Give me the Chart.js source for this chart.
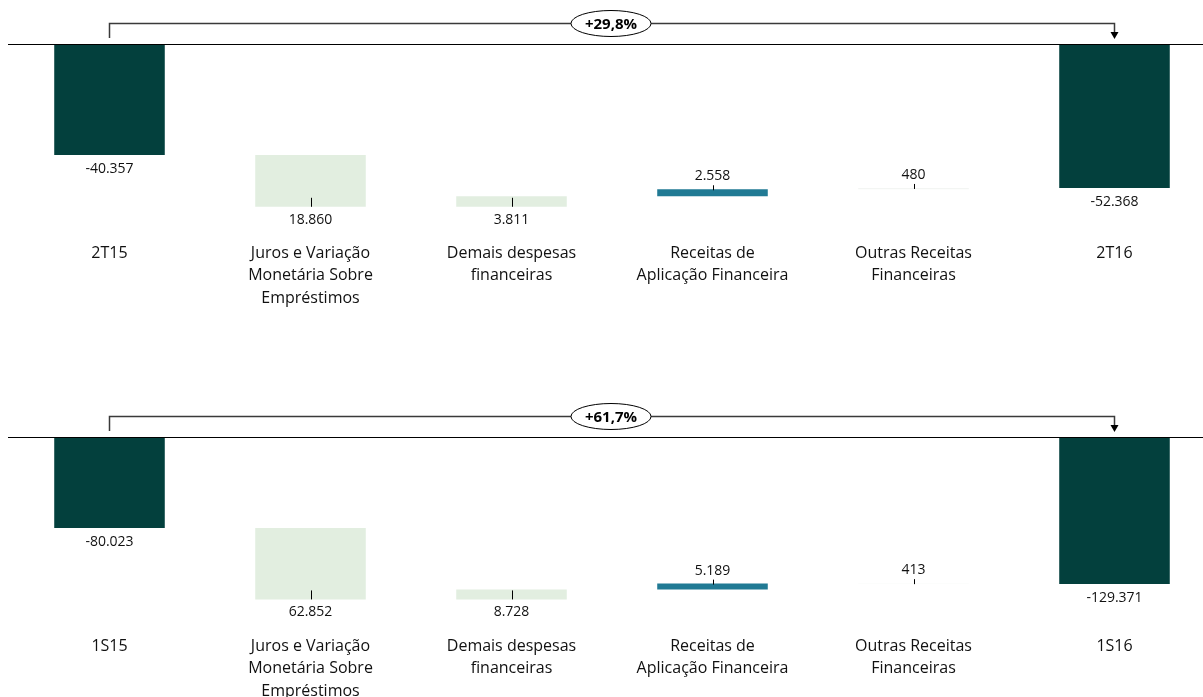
<!DOCTYPE html>
<html>
<head>
<meta charset="utf-8">
<script src="https://cdn.jsdelivr.net/npm/chart.js@4"></script>
<style>
    html, body { margin: 0; padding: 0; background: #fff; overflow: hidden; width: 1203px; height: 697px; }
    .box { position: absolute; left: 0; width: 1220px; height: 393px; }
</style>
</head>
<body>
<div class="box" style="top:0"><canvas id="chartTri" width="1220" height="393"></canvas></div>
<div class="box" style="top:393px"><canvas id="chartSem" width="1220" height="393"></canvas></div>
<script>
// categorias
const catsTri = ['2T15', ['Juros e Variação', 'Monetária Sobre', 'Empréstimos'], ['Demais despesas', 'financeiras'], ['Receitas de', 'Aplicação Financeira'], ['Outras Receitas', 'Financeiras'], '2T16'];
const catsSem = ['1S15', ['Juros e Variação', 'Monetária Sobre', 'Empréstimos'], ['Demais despesas', 'financeiras'], ['Receitas de', 'Aplicação Financeira'], ['Outras Receitas', 'Financeiras'], '1S16'];

// valores (R$ mil)
const startTri = -40357;
const stepsTri = [-18860, 3811, 2558, 480];
const endTri = -52368;
const deltaTri = '+29,8%';

const startSem = -80023;
const stepsSem = [-62852, 8728, 5189, 413];
const endSem = -129371;
const deltaSem = '+61,7%';

const barColors = ['#03403D', '#E2EEE0', '#E2EEE0', '#217A94', '#F3F5F3', '#03403D'];
// onde fica o rótulo de cada barra
const labelSide = ['total', 'below', 'below', 'above', 'above', 'total'];
const FONT = '"Open Sans", Lato, sans-serif';

function fmt(v) {
    const s = Math.abs(Math.round(v)).toString().replace(/\B(?=(\d{3})+(?!\d))/g, '.');
    return (v < 0 ? '-' : '') + s;
}

function buildBars(start, steps, end) {
    const bars = [[0, start]];
    let acc = start;
    steps.forEach(s => {
        bars.push([acc, acc + s]);
        acc += s;
    });
    bars.push([0, end]);
    return bars;
}

const waterfallLabels = {
    id: 'waterfallLabels',
    afterDatasetsDraw(chart, args, opts) {
        const ctx = chart.ctx;
        const y0 = Math.round(chart.scales.y.getPixelForValue(0));
        const bars = chart.getDatasetMeta(0).data;
        const values = opts.values;
        ctx.save();

        // linha do zero
        ctx.strokeStyle = '#000';
        ctx.lineWidth = 1;
        ctx.beginPath();
        ctx.moveTo(chart.chartArea.left - 1, y0 + 0.5);
        ctx.lineTo(chart.width, y0 + 0.5);
        ctx.stroke();

        // rótulos
        ctx.font = '14px ' + FONT;
        ctx.fillStyle = '#111';
        ctx.textAlign = 'center';
        ctx.textBaseline = 'middle';
        bars.forEach((bar, i) => {
            const top = Math.min(bar.y, bar.base);
            const bottom = Math.max(bar.y, bar.base);
            const x = Math.round(bar.x) + 0.5;
            const side = labelSide[i];
            ctx.beginPath();
            if (side === 'total') {
                ctx.fillText(fmt(values[i]), bar.x, bottom + 14);
            } else if (side === 'below') {
                ctx.moveTo(x, bottom - 9);
                ctx.lineTo(x, bottom);
                ctx.stroke();
                ctx.fillText(fmt(Math.abs(values[i])), bar.x, bottom + 13);
            } else {
                ctx.moveTo(x, top - 4);
                ctx.lineTo(x, top + 1);
                ctx.stroke();
                ctx.fillText(fmt(Math.abs(values[i])), bar.x, top - 13);
            }
        });

        // colchete com variação
        const xa = Math.round(bars[0].x) - 0.5;
        const xb = Math.round(bars[bars.length - 1].x) - 0.5;
        const yl = y0 - 21 + 0.5;
        ctx.strokeStyle = '#3a3a3a';
        ctx.lineWidth = 1.5;
        ctx.beginPath();
        ctx.moveTo(xa, y0 - 6);
        ctx.lineTo(xa, yl);
        ctx.lineTo(xb, yl);
        ctx.lineTo(xb, y0 - 11);
        ctx.stroke();
        ctx.fillStyle = '#000';
        ctx.beginPath();
        ctx.moveTo(xb - 4, y0 - 12);
        ctx.lineTo(xb + 4, y0 - 12);
        ctx.lineTo(xb, y0 - 5);
        ctx.closePath();
        ctx.fill();

        const cx = 611;
        ctx.fillStyle = '#fff';
        ctx.strokeStyle = '#000';
        ctx.lineWidth = 1;
        ctx.beginPath();
        ctx.ellipse(cx, yl, 40, 13, 0, 0, Math.PI * 2);
        ctx.fill();
        ctx.stroke();
        ctx.fillStyle = '#000';
        ctx.font = 'bold 15px ' + FONT;
        ctx.fillText(opts.delta, cx, yl + 1);
        ctx.restore();
    }
};

function makeChart(id, cats, start, steps, end, delta, yMin) {
    const values = [start, ...steps, end];
    return new Chart(document.getElementById(id), {
        type: 'bar',
        data: {
            labels: cats,
            datasets: [{
                data: buildBars(start, steps, end),
                backgroundColor: barColors,
                borderWidth: 0,
                barPercentage: 1,
                categoryPercentage: 0.55
            }]
        },
        options: {
            responsive: false,
            animation: false,
            layout: { padding: { top: 44, left: 9, right: 5, bottom: 0 } },
            plugins: {
                legend: { display: false },
                tooltip: { enabled: false },
                waterfallLabels: { values: values, delta: delta }
            },
            scales: {
                x: {
                    grid: { display: false, drawTicks: false },
                    border: { display: false },
                    ticks: {
                        color: '#111',
                        font: { family: FONT, size: 16, lineHeight: 1.4 },
                        padding: 2,
                        maxRotation: 0,
                        autoSkip: false
                    },
                    afterFit: s => { s.height = 153; }
                },
                y: { display: false, min: yMin, max: 0 }
            }
        },
        plugins: [waterfallLabels]
    });
}

makeChart('chartTri', catsTri, startTri, stepsTri, endTri, deltaTri, -71300);
makeChart('chartSem', catsSem, startSem, stepsSem, endSem, deltaSem, -172400);
</script>
</body>
</html>
